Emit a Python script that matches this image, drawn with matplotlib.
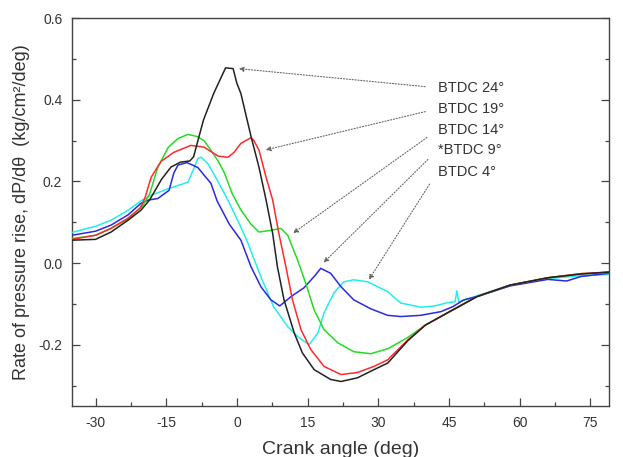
import matplotlib
matplotlib.use('Agg')
import matplotlib.pyplot as plt
from matplotlib.ticker import MultipleLocator

plt.rcParams['font.family'] = ['Liberation Sans', 'DejaVu Sans']
plt.rcParams['axes.unicode_minus'] = False

# crank angle (deg) / rate of pressure rise (kg/cm2/deg)
btdc24_x = [-35, -30, -26.7, -23.1, -20.4, -18.5, -16, -14, -12, -10, -9.2, -7.1, -4.9,
            -2.4, -0.8, 0, 0.85, 3.0, 4.7, 6.2, 7.6, 8.6, 10.0, 12.2, 13.9, 16.4, 19.9,
            22.1, 25.6, 29.1, 32, 36.3, 40, 45, 51, 58, 66, 73, 79]
btdc24_y = [0.056, 0.058, 0.076, 0.105, 0.129, 0.155, 0.205, 0.235, 0.247, 0.25, 0.26,
            0.35, 0.416, 0.478, 0.476, 0.44, 0.415, 0.31, 0.234, 0.154, 0.072, -0.009,
            -0.09, -0.172, -0.22, -0.261, -0.285, -0.29, -0.281, -0.261, -0.245, -0.19,
            -0.152, -0.12, -0.082, -0.054, -0.036, -0.027, -0.022]

btdc19_x = [-35, -30, -26.7, -23.1, -20.5, -19.5, -18.2, -16.1, -13.4, -9.8, -7.0, -4.0,
            -1.9, -0.6, 0.85, 3.0, 3.6, 4.7, 6.2, 7.6, 8.9, 10.4, 11.8, 13.6, 15.7, 18.5,
            22.1, 25.6, 29.1, 32, 36.3, 40, 45, 51, 58, 66, 73, 79]
btdc19_y = [0.058, 0.068, 0.085, 0.11, 0.135, 0.16, 0.21, 0.249, 0.271, 0.288, 0.284,
            0.262, 0.259, 0.271, 0.293, 0.307, 0.3, 0.276, 0.21, 0.154, 0.073, -0.009,
            -0.09, -0.163, -0.212, -0.253, -0.273, -0.268, -0.253, -0.237, -0.188,
            -0.152, -0.12, -0.082, -0.054, -0.036, -0.026, -0.022]

btdc14_x = [-35, -30, -26.7, -23.1, -20, -18.5, -16.8, -14.6, -12.5, -10.4, -8.5, -7.0,
            -5.5, -4.0, -2.7, -1.0, 0.85, 3.0, 4.7, 7.2, 9.3, 10.8, 12.9, 14.6, 16.4, 18.5,
            21.4, 24.8, 28.4, 32, 36.3, 40, 45, 51, 58, 66, 73, 79]
btdc14_y = [0.06, 0.068, 0.085, 0.108, 0.14, 0.17, 0.234, 0.283, 0.305, 0.315, 0.31, 0.3,
            0.276, 0.25, 0.222, 0.17, 0.13, 0.095, 0.076, 0.08, 0.085, 0.068, 0.007,
            -0.049, -0.115, -0.163, -0.195, -0.217, -0.222, -0.21, -0.182, -0.152, -0.12,
            -0.082, -0.054, -0.036, -0.026, -0.023]

btdc9_x = [-35, -30, -26.7, -23.1, -20.4, -18.9, -16.8, -14.4, -13.4, -12.5, -10.6, -8.3,
           -5.5, -4.2, -1.6, 0.85, 3.0, 5.1, 7.2, 9.1, 11.5, 14.2, 16.4, 17.8, 19.9, 22.1,
           24.8, 28.4, 32, 34.8, 39, 43.3, 45.8, 48.2, 51, 58, 66, 70, 73, 79]
btdc9_y = [0.068, 0.078, 0.093, 0.118, 0.146, 0.154, 0.158, 0.178, 0.22, 0.24, 0.246,
           0.234, 0.195, 0.152, 0.095, 0.056, -0.009, -0.058, -0.09, -0.105, -0.082,
           -0.061, -0.033, -0.013, -0.025, -0.058, -0.09, -0.112, -0.128, -0.131, -0.128,
           -0.119, -0.107, -0.09, -0.082, -0.056, -0.04, -0.044, -0.033, -0.025]

btdc4_x = [-35, -30, -26.7, -23, -20.4, -18.2, -15.5, -12.5, -10.4, -9.3, -8.3, -7.6,
           -6.2, -4.5, -1.9, 0.85, 2.3, 5.1, 7.8, 10.8, 12.9, 15.3, 17.2, 18.5, 20.6, 22.7,
           24.8, 27.8, 32, 34.8, 39, 42, 44.7, 46.3, 46.7, 47.1, 48.5, 51, 58, 66, 73, 79]
btdc4_y = [0.075, 0.09, 0.105, 0.13, 0.152, 0.166, 0.178, 0.19, 0.198, 0.227, 0.256,
           0.259, 0.244, 0.21, 0.154, 0.088, 0.05, -0.034, -0.107, -0.156, -0.18, -0.2,
           -0.171, -0.122, -0.073, -0.046, -0.041, -0.046, -0.07, -0.098, -0.108, -0.105,
           -0.097, -0.095, -0.068, -0.095, -0.09, -0.08, -0.054, -0.038, -0.031, -0.028]

labels = ['BTDC 24°', 'BTDC 19°', 'BTDC 14°', '*BTDC 9°', 'BTDC 4°']
colors = ['#222222', '#ff2a2a', '#22dd22', '#2a2ae0', '#22eeee']
# where each label's arrow points, and where the label sits
arrow_tips = [(0.4, 0.476), (6.1, 0.277), (11.9, 0.073), (18.4, 0.001), (28.0, -0.041)]
label_y = [0.429, 0.378, 0.326, 0.277, 0.224]
label_x = 42.6

fig = plt.figure(figsize=(6.23, 4.57), dpi=100)
ax = fig.add_axes([0.1156, 0.1116, 0.862, 0.849])

series = [(btdc24_x, btdc24_y), (btdc19_x, btdc19_y), (btdc14_x, btdc14_y),
          (btdc9_x, btdc9_y), (btdc4_x, btdc4_y)]
for i in [4, 3, 2, 1, 0]:
    x, y = series[i]
    ax.plot(x, y, color=colors[i], lw=1.1, zorder=3)

for lab, tip, ly in zip(labels, arrow_tips, label_y):
    ax.annotate(lab, xy=tip, xytext=(label_x, ly), ha='left', va='center',
                fontsize=10.5, color='#333333',
                arrowprops=dict(arrowstyle='-|>', linestyle=(0, (1, 1.6)), color='#666666',
                                lw=0.8, shrinkA=7, shrinkB=0, mutation_scale=7,
                                relpos=(0, 0.5)))

ax.set_xlim(-35, 79)
ax.set_ylim(-0.35, 0.6)
ax.xaxis.set_major_locator(MultipleLocator(15))
ax.xaxis.set_minor_locator(MultipleLocator(7.5))
ax.yaxis.set_major_locator(MultipleLocator(0.2))
ax.yaxis.set_minor_locator(MultipleLocator(0.1))
ax.yaxis.set_major_formatter(plt.FuncFormatter(lambda v, p: '%.1f' % v))

ax.tick_params(which='both', direction='in', top=False, right=True, colors='#444444',
               labelcolor='#333333', labelsize=10, width=0.9)
ax.tick_params(which='major', length=6, pad=7)
ax.tick_params(which='minor', length=3)
for s in ax.spines.values():
    s.set_color('#444444')
    s.set_linewidth(1.0)

ax.set_xlabel('Crank angle (deg)', fontsize=14, color='#333333', labelpad=8)
ax.set_ylabel('Rate of pressure rise, dP/dθ  (kg/cm²/deg)', fontsize=13,
              color='#333333', labelpad=6)

fig.savefig('out.png', dpi=100)
